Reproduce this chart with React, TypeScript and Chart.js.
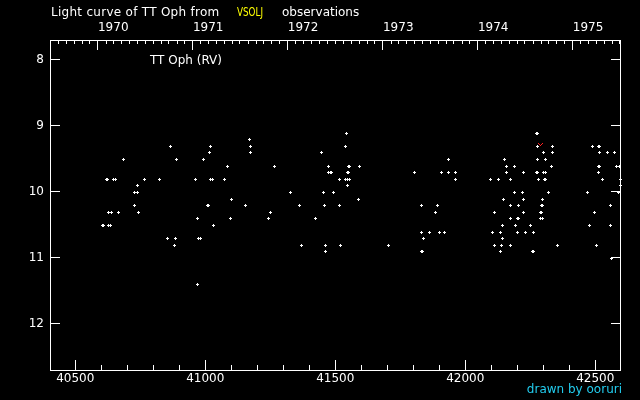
import React, { useEffect, useRef } from "react";
import { Chart, registerables } from "chart.js";

Chart.register(...registerables);

// Observations: Julian Day - 2400000 and visual magnitude
const OBS_JD = [
  40868, 40687, 40891, 40621, 40625, 40648, 40656, 40768, 40826, 40961,
  40741, 40729, 40741, 40729, 40628, 40639, 40667, 40745, 40969, 40605,
  40609, 40629, 40637, 40853, 40884, 40880, 40975, 40980, 40972,
  41169, 41019, 41173, 41015, 41173, 40992, 41084, 41266, 41022, 41026,
  41073, 41328, 41100, 41007, 41011, 41154, 41364, 41250, 41096, 41243,
  41030,
  41544, 41540, 41447, 41474, 41551, 41555, 41594, 41474, 41481, 41485,
  41547, 41551, 41517, 41540, 41548, 41556, 41548, 41455, 41494, 41590,
  41459, 41517, 41424, 41370, 41463, 41521, 41706, 41463,
  41937, 41806, 41910, 41934, 41964, 41964, 42096, 41833, 41895, 41887,
  42111, 41833, 41864, 41899, 41922, 42103, 41841, 42111, 41830, 41834,
  42273, 42277, 42277, 42335, 42300, 42335, 42150, 42277, 42308, 42157,
  42188, 42331, 42157, 42223, 42273, 42277, 42300, 42308, 42127, 42173,
  42281, 42305, 42309, 42188, 42219, 42320, 42146, 42223, 42296, 42173,
  42204, 42292, 42296, 42223, 42289, 42293, 42173, 42199, 42203, 42289,
  42296, 42142, 42192, 42250, 42134, 42200, 42231, 42262, 42142, 42138,
  42173, 42134, 42259, 42263,
  42489, 42512, 42516, 42516, 42547, 42574, 42512, 42516, 42582, 42594,
  42513, 42528, 42595, 42595, 42470, 42590, 42559, 42497, 42478, 42559,
  42354, 42505, 42563,
];
const OBS_MAG = [
  9.3, 9.5, 9.5, 9.8, 9.8, 9.8, 9.8, 9.8, 9.8, 9.8,
  9.9, 10.0, 10.0, 10.2, 10.3, 10.3, 10.3, 10.3, 10.4, 10.5,
  10.5, 10.5, 10.5, 10.7, 10.7, 10.8, 10.7, 10.7, 11.4,
  9.2, 9.3, 9.3, 9.4, 9.4, 9.5, 9.6, 9.6, 9.8, 9.8,
  9.8, 10.0, 10.1, 10.2, 10.2, 10.2, 10.2, 10.3, 10.4, 10.4,
  10.5,
  9.1, 9.3, 9.4, 9.6, 9.6, 9.6, 9.6, 9.7, 9.7, 9.7,
  9.7, 9.7, 9.8, 9.8, 9.8, 9.8, 9.9, 10.0, 10.0, 10.1,
  10.2, 10.2, 10.4, 10.8, 10.8, 10.8, 10.8, 10.9,
  9.5, 9.7, 9.7, 9.7, 9.7, 9.8, 9.8, 10.2, 10.2, 10.3,
  10.3, 10.6, 10.6, 10.6, 10.6, 10.6, 10.7, 10.8, 10.9, 10.9,
  9.1, 9.1, 9.3, 9.3, 9.4, 9.4, 9.5, 9.5, 9.5, 9.6,
  9.6, 9.6, 9.7, 9.7, 9.7, 9.7, 9.7, 9.7, 9.8, 9.8,
  9.8, 9.8, 9.8, 10.0, 10.0, 10.0, 10.1, 10.1, 10.1, 10.2,
  10.2, 10.2, 10.2, 10.3, 10.3, 10.3, 10.4, 10.4, 10.4, 10.4,
  10.4, 10.5, 10.5, 10.5, 10.6, 10.6, 10.6, 10.6, 10.7, 10.8,
  10.8, 10.9, 10.9, 10.9,
  9.3, 9.3, 9.3, 9.4, 9.4, 9.4, 9.6, 9.6, 9.6, 9.6,
  9.7, 9.8, 9.8, 9.9, 10.0, 10.0, 10.2, 10.3, 10.5, 10.5,
  10.8, 10.8, 11.0,
];
// "fainter than" observations
const FAINT_JD = [42290];
const FAINT_MAG = [9.3];

const X_MIN = 40403;
const X_MAX = 42595;
const Y_MIN = 7.705;
const Y_MAX = 12.705;
const X_TICKS = [40500, 41000, 41500, 42000, 42500];
const X_TICK_LABELS = ["40500", "41000", "41500", "42000", "42500"];
const X_MINOR_STEP = 100;
const Y_TICKS = [8, 9, 10, 11, 12];
const Y_TICK_LABELS = ["8", "9", "10", "11", "12"];
const YEAR_JD = [40587.5, 40952.5, 41317.5, 41683.5, 42048.5, 42413.5];
const YEAR_LABELS = ["1970", "1971", "1972", "1973", "1974", "1975"];

const FONT = '"DejaVu Sans", sans-serif';

function makeCross(): HTMLCanvasElement {
  const c = document.createElement("canvas");
  c.width = 3;
  c.height = 5;
  const g = c.getContext("2d")!;
  g.fillStyle = "#ffffff";
  g.fillRect(0, 3, 3, 1);
  g.fillRect(1, 2, 1, 3);
  return c;
}

function makeV(): HTMLCanvasElement {
  const c = document.createElement("canvas");
  c.width = 5;
  c.height = 5;
  const g = c.getContext("2d")!;
  g.fillStyle = "#ff2020";
  g.fillRect(0, 0, 1, 1);
  g.fillRect(4, 0, 1, 1);
  g.fillRect(1, 1, 1, 1);
  g.fillRect(3, 1, 1, 1);
  g.fillRect(2, 2, 1, 1);
  return c;
}

const bgPlugin = {
  id: "bg",
  beforeDraw(chart: any) {
    const ctx = chart.ctx;
    ctx.save();
    ctx.fillStyle = "#000000";
    ctx.fillRect(0, 0, chart.width, chart.height);
    ctx.restore();
  },
  beforeDatasetsDraw(chart: any) {
    chart.ctx.imageSmoothingEnabled = false;
  },
};

const framePlugin = {
  id: "frame",
  afterDraw(chart: any) {
    const ctx = chart.ctx;
    const { left, right, top, bottom } = chart.chartArea;
    const L = Math.round(left);
    const R = Math.round(right);
    const T = Math.round(top);
    const B = Math.round(bottom);
    const xs = chart.scales.x;
    const ys = chart.scales.y;
    ctx.save();
    ctx.fillStyle = "#ffffff";
    // frame
    ctx.fillRect(L, T, R - L + 1, 1);
    ctx.fillRect(L, B, R - L + 1, 1);
    ctx.fillRect(L, T, 1, B - T + 1);
    ctx.fillRect(R, T, 1, B - T + 1);
    // bottom ticks
    for (let v = Math.ceil(X_MIN / X_MINOR_STEP) * X_MINOR_STEP; v < X_MAX; v += X_MINOR_STEP) {
      const col = Math.floor(xs.getPixelForValue(v));
      const major = X_TICKS.includes(v);
      const len = major ? 10 : 5;
      ctx.fillRect(col, B - len, 1, len);
    }
    // top ticks: years (major) and months (minor)
    YEAR_JD.forEach((jd) => {
      const col = Math.floor(xs.getPixelForValue(jd));
      ctx.fillRect(col, T, 1, 10);
    });
    for (let y = 1969; y <= 1975; y++) {
      for (let m = 1; m < 12; m++) {
        const jd = Date.UTC(y, m, 1) / 86400000 + 40587.5;
        if (jd <= X_MIN || jd >= X_MAX) continue;
        const col = Math.floor(xs.getPixelForValue(jd));
        ctx.fillRect(col, T, 1, 4);
      }
    }
    // left / right ticks
    Y_TICKS.forEach((v) => {
      const row = Math.floor(ys.getPixelForValue(v));
      ctx.fillRect(L, row, 10, 1);
      ctx.fillRect(R - 9, row, 10, 1);
    });

    // texts
    ctx.font = `12px ${FONT}`;
    ctx.textBaseline = "alphabetic";
    ctx.textAlign = "left";
    ctx.fillStyle = "#ffffff";
    (ctx as any).letterSpacing = "0.28px";
    ctx.fillText("Light curve of TT Oph from", 51, 16);
    (ctx as any).letterSpacing = "0px";
    ctx.fillStyle = "#ffff00";
    const w = ctx.measureText("VSOLJ").width;
    ctx.save();
    ctx.translate(237, 16);
    ctx.scale(26 / w, 1);
    ctx.fillText("VSOLJ", 0, 0);
    ctx.restore();
    ctx.fillStyle = "#ffffff";
    ctx.fillText("observations", 282, 16);
    ctx.fillText("TT Oph (RV)", 150, 64);
    ctx.fillStyle = "#22ccee";
    ctx.textAlign = "right";
    ctx.fillText("drawn by ooruri", 622, 393);
    ctx.restore();
  },
};

export default function App() {
  const ref = useRef<HTMLCanvasElement | null>(null);
  useEffect(() => {
    document.body.style.margin = "0";
    document.body.style.background = "#000";
    const canvas = ref.current!;
    const tickFont = { family: FONT, size: 12 };
    const chart = new Chart(canvas, {
      type: "scatter",
      data: {
        datasets: [
          {
            data: OBS_JD.map((x, i) => ({ x, y: OBS_MAG[i] })),
            pointStyle: makeCross() as any,
            pointRadius: 2,
            clip: 4,
          } as any,
          {
            data: FAINT_JD.map((x, i) => ({ x, y: FAINT_MAG[i] })),
            pointStyle: makeV() as any,
            pointRadius: 2,
            clip: 4,
          } as any,
        ],
      },
      options: {
        animation: false,
        responsive: false,
        devicePixelRatio: 1,
        events: [],
        layout: { padding: { left: 0, right: 20, top: 0, bottom: 0 } },
        plugins: {
          legend: { display: false },
          tooltip: { enabled: false },
          title: { display: false },
        },
        scales: {
          x: {
            type: "linear",
            position: "bottom",
            min: X_MIN,
            max: X_MAX,
            afterBuildTicks: (s: any) => {
              s.ticks = X_TICKS.map((v) => ({ value: v }));
            },
            afterFit: (s: any) => {
              s.height = 30;
            },
            grid: { display: false, drawTicks: false },
            border: { display: false },
            ticks: {
              color: "#ffffff",
              font: tickFont,
              padding: 2,
              maxRotation: 0,
              autoSkip: false,
              callback: (_v: any, i: number) => X_TICK_LABELS[i],
            },
          },
          x2: {
            type: "linear",
            axis: "x",
            position: "top",
            min: X_MIN,
            max: X_MAX,
            afterBuildTicks: (s: any) => {
              s.ticks = YEAR_JD.map((v) => ({ value: v }));
            },
            afterFit: (s: any) => {
              s.height = 40;
            },
            grid: { display: false, drawTicks: false },
            border: { display: false },
            ticks: {
              color: "#ffffff",
              font: tickFont,
              padding: 5,
              align: "start",
              maxRotation: 0,
              autoSkip: false,
              callback: (_v: any, i: number) => YEAR_LABELS[i],
            },
          },
          y: {
            type: "linear",
            position: "left",
            reverse: true,
            min: Y_MIN,
            max: Y_MAX,
            afterBuildTicks: (s: any) => {
              s.ticks = Y_TICKS.map((v) => ({ value: v }));
            },
            afterFit: (s: any) => {
              s.width = 50;
            },
            grid: { display: false, drawTicks: false },
            border: { display: false },
            ticks: {
              color: "#ffffff",
              font: tickFont,
              padding: 6,
              autoSkip: false,
              callback: (_v: any, i: number) => Y_TICK_LABELS[i],
            },
          },
        },
      } as any,
      plugins: [bgPlugin, framePlugin],
    });
    return () => chart.destroy();
  }, []);
  return (
    <canvas
      ref={ref}
      width={640}
      height={400}
      style={{ display: "block", width: 640, height: 400 }}
    />
  );
}
